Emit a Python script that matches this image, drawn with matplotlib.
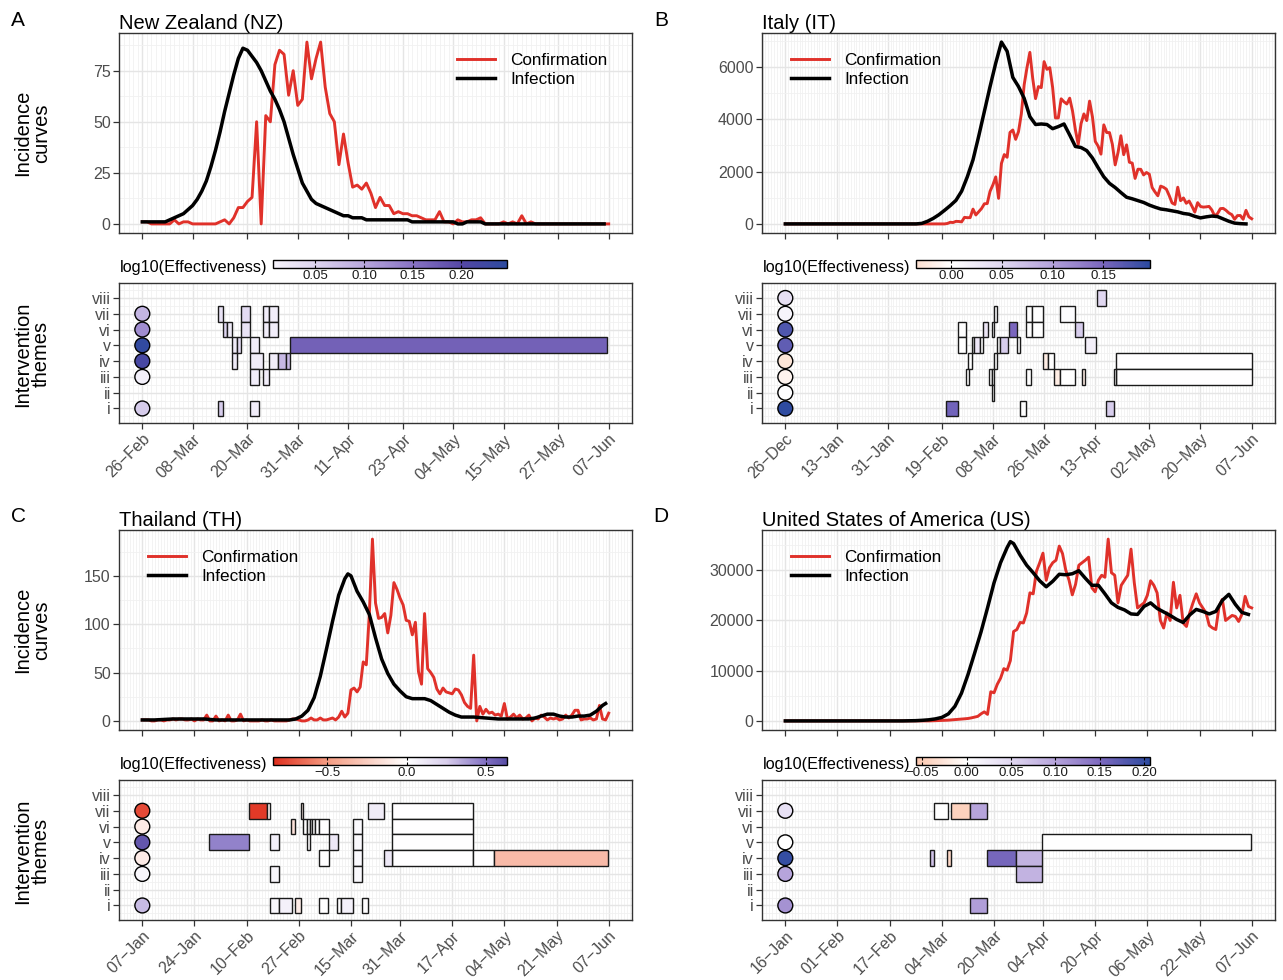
import numpy as np
import pandas as pd
import matplotlib
matplotlib.use("Agg")
import matplotlib.pyplot as plt
from matplotlib.colors import LinearSegmentedColormap, Normalize
from matplotlib.cm import ScalarMappable
from matplotlib.patches import Rectangle
from matplotlib.ticker import MultipleLocator, AutoMinorLocator

plt.rcParams["font.family"] = ["Liberation Sans", "DejaVu Sans"]

# ---------------------------------------------------------------------------
# Data
# ---------------------------------------------------------------------------
ROW_LABELS = ["i", "ii", "iii", "iv", "v", "vi", "vii", "viii"]

# --- New Zealand: daily from 2020-02-26
nz_start = "2020-02-26"
nz_ticks = ["2020-02-26", "2020-03-08", "2020-03-20", "2020-03-31", "2020-04-11",
            "2020-04-23", "2020-05-04", "2020-05-15", "2020-05-27", "2020-06-07"]
nz_conf = [1, 1, 0, 0, 0, 0, 0, 2, 0, 1, 1, 0, 0, 0, 0, 0, 0, 1,
           2, 0, 3, 8, 8, 11, 13,
           50, 0, 53, 50, 78,
           85, 83, 63, 75, 58, 61, 89, 71, 81, 89,
           67, 54, 50, 29, 44, 30, 18, 19, 17, 20,
           15, 8, 13, 9, 9, 5, 6, 5, 5, 4,
           4, 3, 2, 2, 2, 6, 1, 1, 0, 2,
           1, 1, 2, 2, 3, 0, 0, 0, 0, 1,
           0, 1, 0, 4, 0, 1, 0, 0, 0, 0,
           0, 0, 0, 0, 0, 0, 0, 0, 0, 0, 0, 0, 0]
nz_inf_day = list(range(102))
nz_inf = [1, 1, 1, 1, 1, 1, 2, 3, 4, 5,
          7, 9, 12, 16, 21, 28, 36, 45, 55, 64,
          73, 81, 86, 85, 82, 79, 75, 70, 65, 61,
          56, 50, 42, 34, 27, 20, 16, 12, 10, 9,
          8, 7, 6, 5, 4, 4, 3, 3, 3, 2,
          2, 2, 2, 2, 2, 2, 2, 2, 2, 1,
          1, 1, 1, 1, 1, 1, 1, 1, 1, 0,
          0, 1, 1, 1, 1, 0, 0, 0, 0, 0,
          0, 0, 0, 0, 0, 0, 0, 0, 0, 0,
          0, 0, 0, 0, 0, 0, 0, 0, 0, 0, 0, 0]
nz_yticks = [0, 25, 50, 75]
nz_tile_row = [7, 1, 6, 6, 5, 5, 4, 7, 6, 5, 4, 3, 1, 3, 7, 6, 7, 6, 4, 4, 4, 5]
nz_tile_start = [16.5, 16.5, 17.6, 18.6, 19.6, 20.6, 19.6, 21.6, 21.6, 23.6, 23.6,
                 23.6, 23.6, 26.5, 26.5, 26.5, 27.6, 27.6, 27.6, 29.6, 31.5, 32.4]
nz_tile_end = [17.6, 17.6, 18.6, 19.6, 20.6, 21.6, 20.6, 23.6, 23.6, 25.6, 26.5,
               25.6, 25.6, 27.6, 27.6, 27.6, 29.6, 29.6, 29.6, 31.5, 32.4, 101.6]
nz_tile_val = [0.03, 0.06, 0.05, 0.02, 0.02, 0.04, 0.02, 0.04, 0.03, 0.015, 0.015,
               0.015, 0.015, 0.015, 0.015, 0.015, 0.015, 0.015, 0.015, 0.08, 0.08, 0.17]
nz_dot_row = [7, 6, 5, 4, 3, 1]
nz_dot_val = [0.085, 0.125, 0.24, 0.215, 0.012, 0.06]
nz_cb_vals = [0.0065, 0.05, 0.10, 0.15, 0.20, 0.247]
nz_cb_cols = ["#f6f3fb", "#ddd4ef", "#b8a7dc", "#8873c4", "#5547a5", "#2c4a9f"]
nz_cb_ticks = [0.05, 0.10, 0.15, 0.20]
nz_cb_labels = ["0.05", "0.10", "0.15", "0.20"]

# --- Italy: daily from 2019-12-26
it_start = "2019-12-26"
it_ticks = ["2019-12-26", "2020-01-13", "2020-01-31", "2020-02-19", "2020-03-08",
            "2020-03-26", "2020-04-13", "2020-05-02", "2020-05-20", "2020-06-07"]
it_conf = ([0] * 57 +
           [17, 62, 53, 97, 93, 78, 250, 238, 240] +
           [566, 342, 466, 587, 769, 778, 1247, 1492, 1797, 977,
            2313, 2651, 2547, 3497, 3590, 3233, 3526, 4207, 5322, 5986,
            6557, 5560, 4789, 5249, 5210, 6203, 5909, 5974, 5217, 4050, 4053] +
           [4782, 4668, 4585, 4805, 4316, 3599, 3039, 3836, 4204, 3951,
            4694, 4092, 3153, 2972, 2667, 3786, 3493, 3491, 3047, 2256,
            2729, 3370, 2646, 3021, 2357, 2324, 1739, 2091, 2086, 1872] +
           [1965, 1900, 1389, 1221, 1075, 1444, 1401, 1327, 1083, 802,
            744, 1402, 888, 992, 789, 875, 675, 451, 813, 665,
            642, 652, 669, 531, 300, 397, 584, 593, 516, 416, 355] +
           [178, 318, 321, 177, 518, 270, 197])
it_inf_day = [0] + list(range(46, 164, 2))
it_inf = [0,
          0, 20, 100, 210, 350, 520, 700, 900, 1250, 1800,
          2450, 3350, 4300, 5250, 6150, 6950, 6600, 5600, 5250, 4800,
          4100, 3800, 3820, 3800, 3640, 3720, 3820, 3400, 2960, 2920,
          2800, 2520, 2150, 1800, 1550, 1390, 1200, 1020, 960, 890,
          820, 720, 640, 570, 540, 500, 460, 400, 370, 290,
          230, 270, 300, 280, 190, 100, 30, 10, 0]
it_yticks = [0, 2000, 4000, 6000]
it_tile_row = [8, 7, 7, 7, 6, 6, 7, 6, 5, 6, 6, 6, 6, 5, 5, 5, 5, 5, 5, 5,
               4, 4, 4, 4, 4, 3, 3, 3, 3, 3, 2, 3, 3, 3, 3, 1, 1, 1]
it_tile_start = [109.7, 73.5, 84.6, 86.8, 84.6, 86.8, 96.6, 60.7, 60.7, 69.6,
                 72.6, 78.8, 101.7, 65.6, 66.4, 68.4, 74.4, 75.4, 81.5, 105.4,
                 64.3, 73.5, 90.7, 92.5, 116.4, 116.4, 115.6, 63.5, 71.5, 72.6,
                 72.6, 84.6, 94.6, 96.6, 104.5, 56.4, 82.7, 112.8]
it_tile_end = [112.6, 74.4, 86.8, 90.5, 86.8, 90.5, 101.7, 63.7, 63.7, 71.3,
               73.5, 81.5, 104.8, 66.4, 68.4, 69.6, 75.4, 78.4, 82.7, 109.3,
               65.6, 74.4, 92.5, 94.6, 164.0, 164.0, 116.4, 64.5, 72.6, 73.5,
               73.5, 86.5, 96.6, 101.7, 105.4, 60.7, 84.6, 115.6]
it_tile_val = [0.05, 0.005, 0.0, 0.0, 0.0, 0.0, 0.005, 0.0, 0.0, 0.03,
               0.005, 0.15, 0.06, 0.0, 0.03, 0.0, 0.0, 0.06, 0.0, 0.02,
               0.0, 0.0, -0.02, 0.0, 0.001, 0.001, 0.0, 0.0, 0.0, 0.0,
               0.0, 0.0, -0.02, 0.0, -0.02, 0.155, 0.0, 0.06]
it_dot_row = [8, 7, 6, 5, 4, 3, 2, 1]
it_dot_val = [0.04, 0.015, 0.175, 0.165, -0.028, -0.012, 0.002, 0.195]
it_cb_vals = [-0.0345, 0.0, 0.05, 0.10, 0.15, 0.196]
it_cb_cols = ["#fde0d1", "#ffffff", "#e0d7f0", "#b3a1da", "#7a66bd", "#2c4a9f"]
it_cb_ticks = [0.0, 0.05, 0.10, 0.15]
it_cb_labels = ["0.00", "0.05", "0.10", "0.15"]

# --- Thailand: daily from 2020-01-07
th_start = "2020-01-07"
th_ticks = ["2020-01-07", "2020-01-24", "2020-02-10", "2020-02-27", "2020-03-15",
            "2020-03-31", "2020-04-17", "2020-05-04", "2020-05-21", "2020-06-07"]
th_conf = [1, 1, 1, 0, 0, 1, 1, 0, 1, 1,
           2, 1, 2, 2, 1, 1, 2, 0, 2, 1,
           1, 6, 0, 0, 5, 0, 1, 0, 6, 0,
           0, 1, 7, 0, 1, 0, 0, 0, 0, 1,
           0, 0, 1, 0, 0, 0, 0, 0, 1, 2,
           2, 1, 0, 0, 1, 3, 1, 1, 3, 1,
           1, 2, 3, 1, 4, 10, 4, 8,
           32, 34, 30, 35, 61, 58, 111, 188,
           122, 106, 107, 111, 91, 109, 143, 136, 127, 120,
           104, 103, 89, 102, 51, 38, 111, 54, 50, 45,
           33, 28, 34, 30, 29, 28, 33, 32, 27, 19,
           15, 13, 68, 0, 15, 7, 12, 8, 9, 6,
           7, 5, 18,
           2, 4, 7, 3, 6, 2, 3, 6, 0, 3,
           2, 6, 4, 1, 3, 2, 3, 1, 2, 6,
           3, 6, 11, 11, 1, 2, 2, 3, 1, 2,
           16, 2, 1, 8]
th_inf_day = [0, 4, 10, 20, 24, 30, 40, 48, 50, 52, 54, 56, 58, 60, 62, 64, 66, 67, 68,
              70, 72, 74, 76, 78, 80, 82, 84, 86, 88, 90, 92, 94, 96, 98, 100, 102, 104,
              108, 112, 116, 120, 124, 126, 128, 130, 132, 134, 136, 138, 140, 142, 144,
              146, 148, 150, 151]
th_inf = [1, 1, 2, 2, 1, 1, 1, 1, 2, 5, 11, 24, 46, 74, 103, 130, 147, 152, 150,
          134, 123, 110, 86, 64, 49, 38, 31, 25, 23, 23, 23, 21, 17, 13, 9, 6, 4,
          4, 3, 2, 2, 2, 2, 3, 5, 7, 7, 5, 4, 4, 5, 5,
          6, 10, 16, 18]
th_yticks = [0, 50, 100, 150]
th_tile_row = [7, 7, 7, 7, 7, 6, 5, 4, 6, 6, 6, 6, 6, 6, 6, 5, 5, 5, 5, 6, 5, 4, 3,
               4, 4, 4, 4, 3, 1, 1, 1, 1, 1, 1, 1]
th_tile_start = [34.7, 40.6, 51.6, 73.6, 81.5, 81.5, 81.5, 81.5, 48.5, 52.5, 53.6,
                 54.5, 55.4, 56.3, 57.5, 21.6, 41.5, 53.7, 60.7, 68.8, 68.8, 68.8,
                 68.8, 57.7, 78.7, 107.7, 114.7, 41.7, 41.7, 44.7, 49.6, 57.7, 63.5,
                 64.8, 71.6]
th_tile_end = [40.6, 41.5, 52.5, 78.7, 107.7, 107.7, 107.7, 107.7, 49.6, 53.6, 54.5,
               55.4, 56.3, 57.5, 60.7, 34.7, 44.7, 54.7, 63.7, 71.6, 71.6, 71.6,
               71.6, 60.7, 81.5, 114.7, 151.7, 44.7, 44.7, 48.8, 51.6, 60.6, 64.8,
               68.8, 73.6]
th_tile_val = [-0.8, -0.05, -0.1, 0.1, 0.0, 0.0, 0.0, 0.0, -0.15, 0.0, 0.0,
               0.0, 0.0, 0.0, 0.0, 0.45, 0.08, 0.0, 0.12, 0.03, 0.03, 0.03,
               0.03, 0.0, 0.12, 0.0, -0.35, 0.05, 0.05, 0.07, -0.1, 0.0, 0.0,
               0.07, 0.0]
th_dot_row = [7, 6, 5, 4, 3, 1]
th_dot_val = [-0.75, -0.1, 0.6, -0.1, 0.05, 0.3]
th_cb_vals = [-0.84, -0.5, 0.0, 0.25, 0.5, 0.632]
th_cb_cols = ["#df2e1d", "#f59c82", "#ffffff", "#d9cfec", "#8270c2", "#5a4fa6"]
th_cb_ticks = [-0.5, 0.0, 0.5]
th_cb_labels = ["\u22120.5", "0.0", "0.5"]

# --- United States: daily from 2020-01-16
us_start = "2020-01-16"
us_ticks = ["2020-01-16", "2020-02-01", "2020-02-17", "2020-03-04", "2020-03-20",
            "2020-04-04", "2020-04-20", "2020-05-06", "2020-05-22", "2020-06-07"]
us_conf = ([0] * 45 +
           [30, 50, 70, 90, 100, 150, 200, 260, 320, 370,
            420, 480, 600, 750, 900, 1400, 1800, 1300, 5800, 5600,
            7300, 8500, 10400, 10100, 12000, 17800, 18200, 19600, 19500, 21500,
            25500, 25300, 29800, 31500, 33400, 28000, 30500, 31500, 32000, 34800,
            33300, 30000, 28000, 25100, 27200, 31000, 31500, 32000, 32600, 26500,
            25700, 28000, 29000, 28600, 36200, 29500, 29000, 23500, 27000, 28000,
            29000, 34200, 27500, 22500, 23000, 23500, 25000, 27900, 27000, 25500,
            20000, 18500, 21500, 20000, 27600, 22500, 25000, 19500, 18800, 21500,
            23500, 25300, 23500, 22500, 21500, 19000, 18500, 18200, 22800, 24200,
            20000, 20500, 21000, 20800, 19800, 21200, 24800, 22800, 22500])
us_inf_day = [0, 36] + list(range(40, 70, 2)) + [69] + list(range(70, 143, 2))
us_inf = [0, 0,
          50, 120, 220, 400, 700, 1400, 2900, 5500, 9200, 13400, 17700, 22500,
          27500, 31500, 34500,
          35700,
          35300, 33000, 31000, 29500, 27900, 26700, 27800, 29200, 29100, 29300,
          29900, 28400, 27000, 27000, 25300, 23500, 22600, 22100, 21300, 21200,
          22800, 23500, 22400, 21700, 21000, 20200, 19600, 21100, 22200, 21800,
          21300, 21800, 24000, 25200, 23200, 21600, 21200]
us_yticks = [0, 10000, 20000, 30000]
us_tile_row = [7, 7, 7, 5, 4, 4, 4, 4, 3, 1]
us_tile_start = [45.6, 50.7, 56.6, 78.6, 44.5, 49.6, 61.7, 70.6, 70.6, 56.6]
us_tile_end = [49.8, 56.6, 61.7, 142.7, 45.6, 50.7, 70.6, 78.6, 78.6, 61.7]
us_tile_val = [0.002, -0.045, 0.1, 0.0, 0.07, -0.04, 0.155, 0.085, 0.085, 0.105]
us_dot_row = [7, 5, 4, 3, 1]
us_dot_val = [0.04, 0.0, 0.2, 0.1, 0.115]
us_cb_vals = [-0.057, 0.0, 0.05, 0.10, 0.15, 0.2064]
us_cb_cols = ["#fcc7ae", "#ffffff", "#e1d8f1", "#b6a4db", "#7e6abf", "#2c4a9f"]
us_cb_ticks = [-0.05, 0.0, 0.05, 0.10, 0.15, 0.20]
us_cb_labels = ["\u22120.05", "0.00", "0.05", "0.10", "0.15", "0.20"]

# ---------------------------------------------------------------------------
# Figure helpers
# ---------------------------------------------------------------------------
W, H = 1283, 980
RED = "#e0312a"
FRAME = "#333333"
TICK_TXT = "#4d4d4d"

fig = plt.figure(figsize=(W / 100, H / 100), dpi=100)


def axes_px(left, top, right, bottom):
    return fig.add_axes([left / W, 1 - bottom / H, (right - left) / W, (bottom - top) / H])


def style(ax):
    for s in ax.spines.values():
        s.set_color(FRAME)
        s.set_linewidth(1.0)
    ax.tick_params(which="major", length=4, width=0.9, color=FRAME,
                   labelcolor=TICK_TXT, labelsize=11.5, pad=2)
    ax.tick_params(which="minor", length=0)
    ax.set_axisbelow(True)
    ax.grid(which="major", color="#e5e5e5", lw=1.0)
    ax.grid(which="minor", color="#f1f1f1", lw=0.6)
    ax.xaxis.set_minor_locator(MultipleLocator(1))


def panel(x0, y0, letter, title, start, tick_dates, conf, inf_day, inf, yticks,
          leg_x, t_row, t_start, t_end, t_val, d_row, d_val,
          cb_vals, cb_cols, cb_ticks, cb_labels, left_col):
    t0 = pd.Timestamp(start)
    ticks = [(pd.Timestamp(d) - t0).days for d in tick_dates]
    labels = [pd.Timestamp(d).strftime("%d-%b").replace("-", "\u2212") for d in tick_dates]
    n = max(len(conf) - 1, inf_day[-1])
    xlim = (-0.05 * n, 1.05 * n)

    # incidence curves
    ax = axes_px(x0, y0, x0 + 513, y0 + 200)
    style(ax)
    ax.plot(range(len(conf)), conf, color=RED, lw=2.1, label="Confirmation")
    ax.plot(inf_day, inf, color="black", lw=2.5, label="Infection")
    ymax = max(max(conf), max(inf))
    ax.set_ylim(-0.05 * ymax, 1.05 * ymax)
    ax.set_xlim(*xlim)
    ax.set_yticks(yticks)
    ax.yaxis.set_minor_locator(AutoMinorLocator(2))
    ax.set_xticks(ticks)
    ax.tick_params(labelbottom=False)
    ax.set_title(title, loc="left", pad=3, fontsize=14.5)
    ax.legend(loc="upper left", bbox_to_anchor=(leg_x, 0.90), frameon=False,
              fontsize=12.3, handlelength=2.2, handletextpad=0.9,
              labelspacing=0.24, borderpad=0, borderaxespad=0)
    fig.text((x0 - 101) / W, 1 - (y0 - 13) / H, letter, ha="center", va="center",
             fontsize=15)
    if left_col:
        fig.text((x0 - 87) / W, 1 - (y0 + 100) / H, "Incidence\ncurves", rotation=90,
                 ha="center", va="center", fontsize=14.5, linespacing=1.0)
        fig.text((x0 - 87) / W, 1 - (y0 + 321) / H, "Intervention\nthemes", rotation=90,
                 ha="center", va="center", fontsize=14.5, linespacing=1.0)

    # colour scale
    pos = [(v - cb_vals[0]) / (cb_vals[-1] - cb_vals[0]) for v in cb_vals]
    cmap = LinearSegmentedColormap.from_list("eff", list(zip(pos, cb_cols)))
    norm = Normalize(cb_vals[0], cb_vals[-1])
    cax = axes_px(x0 + 154, y0 + 227, x0 + 388, y0 + 235)
    cb = fig.colorbar(ScalarMappable(norm=norm, cmap=cmap), cax=cax,
                      orientation="horizontal")
    cb.set_ticks(cb_ticks, labels=cb_labels)
    cb.ax.tick_params(length=2.5, width=0.8, direction="in", top=True,
                      labelsize=9.5, pad=1.5, color="black", labelcolor="#1a1a1a")
    cb.outline.set_linewidth(1.0)
    cb.outline.set_edgecolor("black")
    fig.text((x0 + 148) / W, 1 - (y0 + 234) / H, "log10(Effectiveness)",
             ha="right", va="center", fontsize=11.7)

    # intervention tiles
    ax2 = axes_px(x0, y0 + 250, x0 + 513, y0 + 390)
    style(ax2)
    for r, s, e, v in zip(t_row, t_start, t_end, t_val):
        ax2.add_patch(Rectangle((s, r - 0.5), e - s, 1, facecolor=cmap(norm(v)),
                                edgecolor="#1a1a1a", lw=1.0, zorder=3))
    ax2.scatter(np.zeros(len(d_row)), d_row, s=115, c=[cmap(norm(v)) for v in d_val],
                edgecolors="black", linewidths=1.0, zorder=5)
    ax2.set_xlim(*xlim)
    ax2.set_ylim(0.08, 8.95)
    ax2.set_yticks(range(1, 9), ROW_LABELS)
    ax2.yaxis.set_minor_locator(MultipleLocator(0.5))
    ax2.set_xticks(ticks, labels)
    for lab in ax2.get_xticklabels():
        lab.set_rotation(45)
        lab.set_ha("right")
        lab.set_va("top")
        lab.set_rotation_mode("anchor")


panel(119, 33, "A", "New Zealand (NZ)", nz_start, nz_ticks, nz_conf, nz_inf_day, nz_inf,
      nz_yticks, 0.659, nz_tile_row, nz_tile_start, nz_tile_end, nz_tile_val,
      nz_dot_row, nz_dot_val, nz_cb_vals, nz_cb_cols, nz_cb_ticks, nz_cb_labels, True)
panel(762, 33, "B", "Italy (IT)", it_start, it_ticks, it_conf, it_inf_day, it_inf,
      it_yticks, 0.057, it_tile_row, it_tile_start, it_tile_end, it_tile_val,
      it_dot_row, it_dot_val, it_cb_vals, it_cb_cols, it_cb_ticks, it_cb_labels, False)
panel(119, 530, "C", "Thailand (TH)", th_start, th_ticks, th_conf, th_inf_day, th_inf,
      th_yticks, 0.057, th_tile_row, th_tile_start, th_tile_end, th_tile_val,
      th_dot_row, th_dot_val, th_cb_vals, th_cb_cols, th_cb_ticks, th_cb_labels, True)
panel(762, 530, "D", "United States of America (US)", us_start, us_ticks, us_conf,
      us_inf_day, us_inf, us_yticks, 0.057, us_tile_row, us_tile_start, us_tile_end,
      us_tile_val, us_dot_row, us_dot_val, us_cb_vals, us_cb_cols, us_cb_ticks,
      us_cb_labels, False)

fig.savefig("out.png", dpi=100)
